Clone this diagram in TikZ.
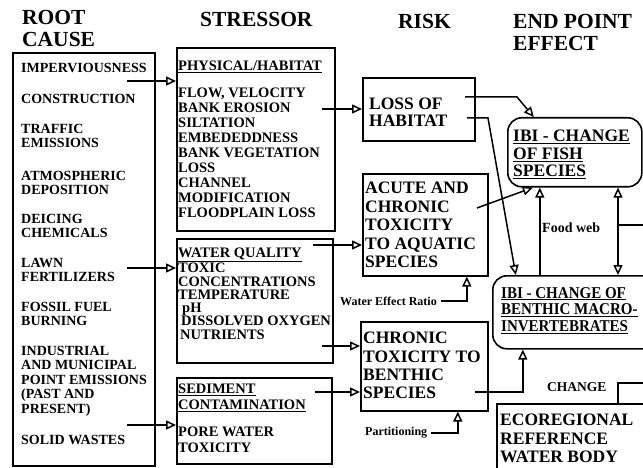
\documentclass[tikz,border=0pt]{standalone}
\usepackage{fontspec}
\setmainfont{Liberation Serif}
\usetikzlibrary{arrows.meta}

\begin{document}
\begin{tikzpicture}[x=1pt,y=-1pt,
  every node/.style={inner sep=0pt},
  head/.style={font=\bfseries\fontsize{21.5}{22.5}\selectfont,align=left,anchor=north west},
  cause/.style={font=\bfseries\fontsize{14}{14.5}\selectfont,align=left,anchor=west},
  txt/.style={font=\bfseries\fontsize{14.5}{15}\selectfont,align=left,anchor=north west},
  big/.style={font=\bfseries\fontsize{17.5}{18.5}\selectfont,align=left,anchor=north west},
  note/.style={font=\bfseries\fontsize{12}{12}\selectfont,anchor=west},
  box/.style={draw,line width=1.6pt,anchor=north west},
  rbox/.style={box,rounded corners=14pt},
  arr/.style={line width=1.5pt,-{Triangle[open,length=10pt,width=9pt]}},
  wire/.style={line width=1.5pt}]
\path[use as bounding box,clip] (0,0) rectangle (643,468);
\fill[white] (0,0) rectangle (643,468);

\node[head] (hroot) at (22,10) {ROOT\\CAUSE};
\node[head] (hstress) at (200,12) {STRESSOR};
\node[head] (hrisk) at (398,14) {RISK};
\node[head] (hend) at (513,14) {END POINT\\EFFECT};

\node[box,minimum width=142pt,minimum height=413pt] (root) at (12,52) {};
\foreach \y/\t [count=\i] in {68/IMPERVIOUSNESS, 99/CONSTRUCTION,
    136/{TRAFFIC\\EMISSIONS}, 183/{ATMOSPHERIC\\DEPOSITION},
    226/{DEICING\\CHEMICALS}, 270/{LAWN\\FERTILIZERS},
    314/{FOSSIL FUEL\\BURNING},
    381/{INDUSTRIAL\\AND MUNICIPAL\\POINT EMISSIONS\\(PAST AND\\PRESENT)},
    440/{SOLID WASTES}}
  \node[cause] (cause\i) at (21,\y) {\t};

\node[box,minimum width=158pt,minimum height=183pt] (phys) at (176,47) {};
\node[txt] (phystxt) at (178,61) {\underline{PHYSICAL/HABITAT}\\[12pt]
  FLOW, VELOCITY\\BANK EROSION\\SILTATION\\EMBEDEDDNESS\\BANK VEGETATION\\
  LOSS\\CHANNEL\\MODIFICATION\\FLOODPLAIN LOSS};
\node[box,minimum width=156pt,minimum height=124pt] (wq) at (176,238) {};
\node[txt,font=\bfseries\fontsize{14.5}{13.3}\selectfont] (wqtxt) at (178,248) {%
  \underline{WATER QUALITY}\\TOXIC\\CONCENTRATIONS\\TEMPERATURE\\
  \hspace{4pt}pH\\\hspace{3pt}DISSOLVED OXYGEN\\\hspace{2pt}NUTRIENTS};
\node[box,minimum width=155pt,minimum height=86pt] (sed) at (176,377) {};
\node[txt,font=\bfseries\fontsize{14.5}{15.5}\selectfont] (sedtxt) at (178,384) {%
  \underline{SEDIMENT}\\\underline{CONTAMINATION}\\[12pt]PORE WATER\\TOXICITY};

\node[box,minimum width=112pt,minimum height=63pt] (loss) at (362,77) {};
\node[big,font=\bfseries\fontsize{17.5}{17}\selectfont] (losstxt) at (369,98) {LOSS OF\\HABITAT};
\node[box,minimum width=125pt,minimum height=102pt] (acute) at (362,173) {};
\node[big] (acutetxt) at (365,182) {ACUTE AND\\CHRONIC\\TOXICITY\\TO AQUATIC\\SPECIES};
\node[box,minimum width=127pt,minimum height=89pt] (chron) at (360,321) {};
\node[big,font=\bfseries\fontsize{17.5}{18.3}\selectfont] (chrontxt) at (363,332) {CHRONIC\\TOXICITY TO\\BENTHIC\\SPECIES};
\node[note] (wer) at (340,301) {Water Effect Ratio};
\node[note] (part) at (365,433) {Partitioning};

\node[rbox,minimum width=134pt,minimum height=69pt] (fish) at (507,117) {};
\node[big,font=\bfseries\fontsize{17.5}{17.5}\selectfont] (fishtxt) at (513,130) {%
  \underline{IBI - CHANGE}\\\underline{OF FISH}\\\underline{SPECIES}};
\node[rbox,minimum width=164pt,minimum height=73pt] (benth) at (492,275) {};
\node[big,font=\bfseries\fontsize{16.5}{16.5}\selectfont\addfontfeature{FakeStretch=0.91}] (benthtxt) at (501,287) {%
  \underline{IBI - CHANGE OF}\\\underline{BENTHIC MACRO-}\\\underline{INVERTEBRATES}};
\node[box,minimum width=164pt,minimum height=80pt] (eco) at (496,403) {};
\node[big] (ecotxt) at (500,414) {ECOREGIONAL\\REFERENCE\\WATER BODY};
\node[note,font=\bfseries\fontsize{14}{14}\selectfont] (food) at (542,228) {Food web};
\node[note,font=\bfseries\fontsize{13.5}{13.5}\selectfont] (chg) at (547,387) {CHANGE};

\coordinate (a1) at (127,81);
\coordinate (a2) at (127,268);
\coordinate (a3) at (127,425);
\draw[arr] (a1) -- (phys.west |- a1);
\draw[arr] (a2) -- (wq.west |- a2);
\draw[arr] (a3) -- (sed.west |- a3);

\coordinate (p1) at (322,109);
\coordinate (w1) at (313,245);
\coordinate (w2) at (322,346);
\coordinate (s1) at (315,392);
\draw[arr] (p1) -- (loss.west |- p1);
\draw[arr] (w1) -- (acute.west |- w1);
\draw[arr] (w2) -- (chron.west |- w2);
\draw[arr] (s1) -- (chron.west |- s1);
\draw[arr] ([xshift=4pt]wer.east) -| ([xshift=41.5pt]acute.south);
\draw[arr] ([xshift=4pt]part.east) -| ([xshift=33.5pt]chron.south);

\coordinate (l1) at (465,97);
\coordinate (l2) at (467,118);
\coordinate (ac) at (477,208);
\coordinate (cs) at (475,392);
\draw[arr] (l1) -- ++(52,0) -- ([xshift=-41pt]fish.north);
\draw[arr] (l2) -- ++(21,0) -- ([xshift=-59pt]benth.north);
\draw[arr] (ac) -- ([xshift=-42pt]fish.south);
\draw[arr] ([xshift=-35pt]benth.north) -- ([xshift=-35pt]fish.south);
\draw[arr] (cs) -| ([xshift=-52pt]benth.south);

\coordinate (ext) at (643,225);
\coordinate (fr) at (618,225);
\draw[wire] (ext) -- (fr);
\draw[arr] (fr) -- (fish.south -| fr);
\draw[arr] (fr) -- (benth.north -| fr);
\coordinate (cext) at (643,383);
\draw[wire] (cext) -| ([xshift=39pt]eco.north);
\end{tikzpicture}
\end{document}
